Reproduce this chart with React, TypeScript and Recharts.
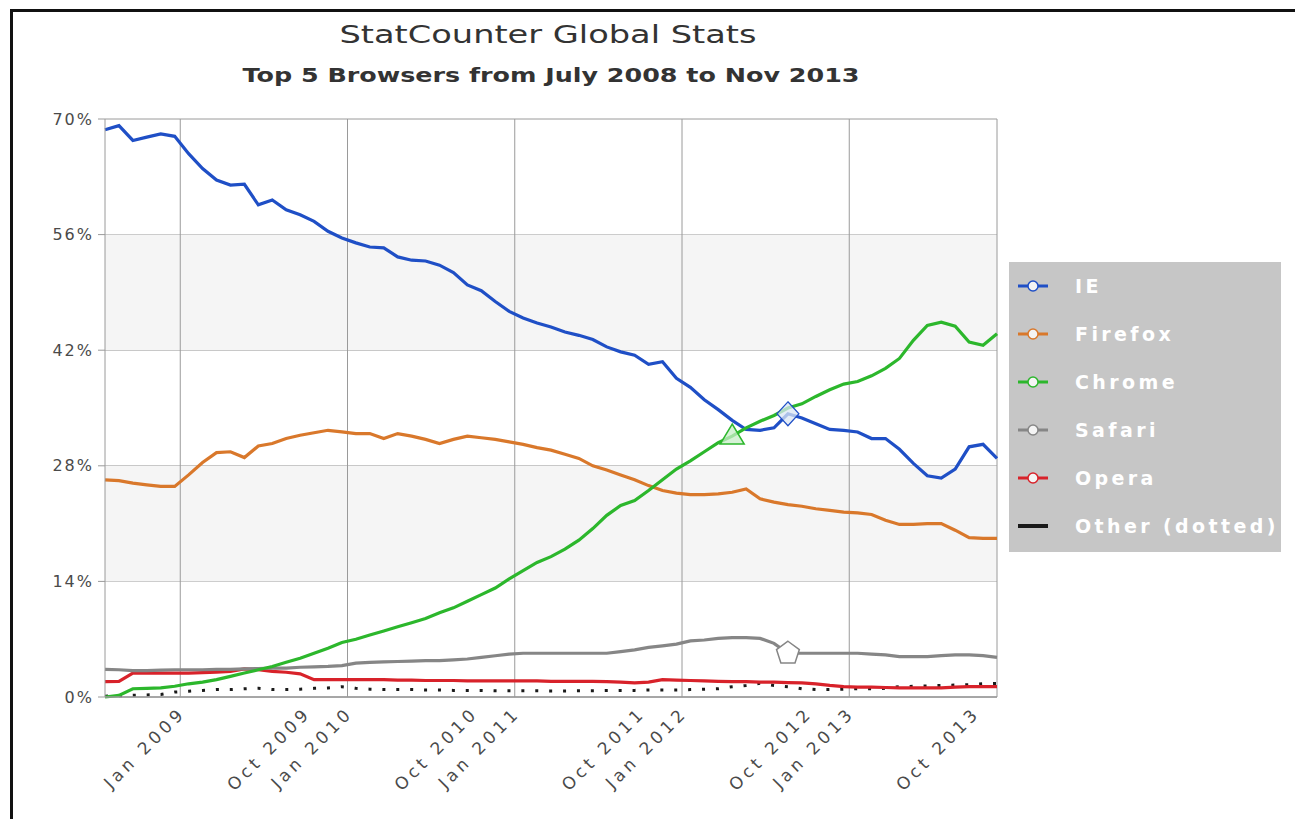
import React from 'react';
import {
  LineChart,
  Line,
  XAxis,
  YAxis,
  CartesianGrid,
  ReferenceLine,
  ReferenceArea,
  ReferenceDot,
} from 'recharts';

// monthly share, Jul 2008 (index 0) .. Nov 2013 (index 64)
const IE = [
  68.7, 69.2, 67.4, 67.8, 68.2, 67.9, 65.8, 64.0, 62.6, 62.0,
  62.1, 59.6, 60.2, 59.0, 58.4, 57.6, 56.4, 55.6, 55.0, 54.5,
  54.4, 53.3, 52.9, 52.8, 52.3, 51.4, 49.9, 49.2, 47.9, 46.7,
  45.9, 45.3, 44.8, 44.2, 43.8, 43.3, 42.4, 41.8, 41.4, 40.3,
  40.6, 38.6, 37.5, 36.0, 34.8, 33.5, 32.4, 32.3, 32.6, 34.3,
  33.8, 33.1, 32.4, 32.3, 32.1, 31.3, 31.3, 30.0, 28.3, 26.8,
  26.5, 27.6, 30.3, 30.6, 28.9,
];
const FIREFOX = [
  26.3, 26.2, 25.9, 25.7, 25.5, 25.5, 26.9, 28.4, 29.6, 29.7,
  29.0, 30.4, 30.7, 31.3, 31.7, 32.0, 32.3, 32.1, 31.9, 31.9,
  31.3, 31.9, 31.6, 31.2, 30.7, 31.2, 31.6, 31.4, 31.2, 30.9,
  30.6, 30.2, 29.9, 29.4, 28.9, 28.0, 27.5, 26.9, 26.3, 25.6,
  25.0, 24.7, 24.5, 24.5, 24.6, 24.8, 25.2, 24.0, 23.6, 23.3,
  23.1, 22.8, 22.6, 22.4, 22.3, 22.1, 21.4, 20.9, 20.9, 21.0,
  21.0, 20.2, 19.3, 19.2, 19.2,
];
const CHROME = [
  0.0, 0.2, 1.0, 1.05, 1.1, 1.3, 1.6, 1.8, 2.1, 2.5,
  2.9, 3.3, 3.7, 4.2, 4.7, 5.3, 5.9, 6.6, 7.0, 7.5,
  8.0, 8.5, 9.0, 9.5, 10.2, 10.8, 11.6, 12.4, 13.2, 14.3,
  15.3, 16.3, 17.0, 17.9, 19.0, 20.4, 22.0, 23.2, 23.8, 25.0,
  26.3, 27.6, 28.6, 29.7, 30.8, 31.6, 32.6, 33.4, 34.1, 35.0,
  35.5, 36.4, 37.2, 37.9, 38.2, 38.9, 39.8, 41.0, 43.2, 45.0,
  45.4, 44.9, 43.0, 42.6, 44.0,
];
const SAFARI = [
  3.35, 3.3, 3.2, 3.2, 3.25, 3.3, 3.3, 3.3, 3.35, 3.35,
  3.4, 3.45, 3.5, 3.5, 3.6, 3.65, 3.7, 3.8, 4.1, 4.2,
  4.25, 4.3, 4.35, 4.4, 4.4, 4.5, 4.6, 4.8, 5.0, 5.2,
  5.3, 5.3, 5.3, 5.3, 5.3, 5.3, 5.3, 5.5, 5.7, 6.0,
  6.2, 6.4, 6.8, 6.9, 7.1, 7.2, 7.2, 7.1, 6.5, 5.3,
  5.3, 5.3, 5.3, 5.3, 5.3, 5.2, 5.1, 4.9, 4.9, 4.9,
  5.0, 5.1, 5.1, 5.0, 4.8,
];
const OPERA = [
  1.85, 1.9, 2.9, 2.9, 2.9, 2.9, 2.9, 2.95, 3.0, 3.1,
  3.4, 3.3, 3.1, 3.0, 2.8, 2.1, 2.1, 2.1, 2.1, 2.1,
  2.1, 2.05, 2.05, 2.0, 2.0, 2.0, 1.95, 1.95, 1.95, 1.95,
  1.95, 1.95, 1.9, 1.9, 1.9, 1.9, 1.85, 1.8, 1.7, 1.8,
  2.1, 2.05, 2.0, 1.95, 1.9, 1.85, 1.85, 1.8, 1.8, 1.75,
  1.7, 1.6, 1.4, 1.25, 1.2, 1.2, 1.15, 1.1, 1.1, 1.1,
  1.1, 1.2, 1.25, 1.25, 1.25,
];
const OTHER = [
  0.1, 0.15, 0.2, 0.25, 0.3, 0.6, 0.7, 0.8, 0.9, 0.9,
  1.0, 1.05, 0.9, 0.9, 0.95, 1.05, 1.1, 1.25, 1.05, 0.95,
  0.9, 0.9, 0.9, 0.85, 0.85, 0.8, 0.8, 0.8, 0.75, 0.75,
  0.75, 0.75, 0.73, 0.73, 0.75, 0.75, 0.78, 0.8, 0.8, 0.85,
  0.85, 0.85, 0.9, 0.95, 1.0, 1.25, 1.4, 1.65, 1.4, 1.25,
  1.0, 0.9, 0.9, 0.95, 1.0, 1.0, 1.05, 1.25, 1.3, 1.35,
  1.4, 1.45, 1.5, 1.6, 1.65,
];

const Y_TICKS = [0, 14, 28, 42, 56, 70];
const X_LABEL_MONTHS = [6, 15, 18, 27, 30, 39, 42, 51, 54, 63];
const X_LABELS = [
  'Jan 2009', 'Oct 2009', 'Jan 2010', 'Oct 2010', 'Jan 2011',
  'Oct 2011', 'Jan 2012', 'Oct 2012', 'Jan 2013', 'Oct 2013',
];
const YEAR_LINES = [5.4, 17.4, 29.4, 41.4, 53.4];
const SHADED_BANDS = [[14, 28], [42, 56]];

const SERIES = [
  { key: 'other', name: 'Other (dotted)', color: '#1a1a1a', values: OTHER, dotted: true },
  { key: 'opera', name: 'Opera', color: '#d8222a', values: OPERA },
  { key: 'safari', name: 'Safari', color: '#868686', values: SAFARI },
  { key: 'firefox', name: 'Firefox', color: '#d9782b', values: FIREFOX },
  { key: 'ie', name: 'IE', color: '#1f4fc6', values: IE },
  { key: 'chrome', name: 'Chrome', color: '#2cb72c', values: CHROME },
];
const LEGEND_ORDER = ['ie', 'firefox', 'chrome', 'safari', 'opera', 'other'];

const MARKERS = [
  { key: 'chrome', month: 45, shape: 'triangle', fill: '#c8eec8' },
  { key: 'ie', month: 49, shape: 'diamond', fill: '#dce7f4' },
  { key: 'safari', month: 49, shape: 'pentagon', fill: '#ffffff' },
];

const data = IE.map((_, i) => {
  const row: Record<string, number> = { m: i };
  SERIES.forEach((s) => {
    row[s.key] = s.values[i];
  });
  return row;
});

const FONT = "'DejaVu Sans', Verdana, sans-serif";
const GRID = '#9a9a9a';
const AXIS_Y = 697;

const YTick = ({ x, y, payload }: any) => (
  <text
    x={x}
    y={y}
    textAnchor="end"
    dominantBaseline="central"
    style={{ fontFamily: FONT, fontSize: 16, fill: '#4a4a4a', letterSpacing: 2 }}
  >
    {payload.value}%
  </text>
);

// labels hang from the axis, rotated 45 degrees, text ending near the month position
const XTick = ({ x, payload }: any) => {
  const label = X_LABELS[X_LABEL_MONTHS.indexOf(payload.value)];
  const ax = x - 2;
  const ay = AXIS_Y + 17;
  return (
    <text
      x={ax}
      y={ay}
      transform={`rotate(-45 ${ax} ${ay})`}
      textAnchor="end"
      style={{ fontFamily: FONT, fontSize: 17, fill: '#4a4a4a', letterSpacing: 4 }}
    >
      {label}
    </text>
  );
};

function markerShape(shape: string, color: string, fill: string) {
  return (p: any) => {
    const { cx, cy } = p;
    if (shape === 'triangle') {
      return (
        <polygon
          points={`${cx},${cy - 12} ${cx - 12},${cy + 8} ${cx + 12},${cy + 8}`}
          fill={fill}
          fillOpacity={0.75}
          stroke={color}
          strokeWidth={1.5}
        />
      );
    }
    if (shape === 'diamond') {
      return (
        <polygon
          points={`${cx},${cy - 12} ${cx + 11},${cy} ${cx},${cy + 12} ${cx - 11},${cy}`}
          fill={fill}
          fillOpacity={0.75}
          stroke={color}
          strokeWidth={1.2}
        />
      );
    }
    const pts = [0, 1, 2, 3, 4]
      .map((k) => {
        const a = -Math.PI / 2 + (k * 2 * Math.PI) / 5;
        return `${cx + 12 * Math.cos(a)},${cy + 12 * Math.sin(a)}`;
      })
      .join(' ');
    return <polygon points={pts} fill={fill} stroke={color} strokeWidth={1.5} />;
  };
}

export default function App() {
  const legendItems = LEGEND_ORDER.map((k) => SERIES.find((s) => s.key === k)!);
  return (
    <div style={{ position: 'absolute', left: 0, top: 0, width: 1295, height: 819, background: '#fff' }}>
      <div
        style={{
          position: 'absolute',
          left: 10,
          top: 9,
          width: 1285,
          height: 810,
          borderTop: '3px solid #111',
          borderLeft: '3px solid #111',
        }}
      />
      <div style={{ position: 'absolute', left: 0, top: 0 }}>
        <LineChart
          width={1295}
          height={819}
          data={data}
          margin={{ top: 119, right: 298, bottom: 12, left: 10 }}
        >
          {SHADED_BANDS.map(([a, b]) => (
            <ReferenceArea
              key={`band-${a}`}
              y1={a}
              y2={b}
              fill="#f5f5f5"
              fillOpacity={1}
              stroke="none"
            />
          ))}
          <CartesianGrid vertical={false} stroke={GRID} strokeWidth={1} />
          {YEAR_LINES.map((m) => (
            <ReferenceLine key={`yr-${m}`} x={m} stroke={GRID} strokeWidth={1} />
          ))}
          <ReferenceLine x={64} stroke={GRID} strokeWidth={1} />
          <XAxis
            dataKey="m"
            type="number"
            domain={[0, 64]}
            ticks={X_LABEL_MONTHS}
            interval={0}
            height={110}
            tickLine={false}
            tickSize={0}
            tickMargin={0}
            axisLine={{ stroke: GRID, strokeWidth: 1.5 }}
            tick={<XTick />}
          />
          <YAxis
            type="number"
            domain={[0, 70]}
            ticks={Y_TICKS}
            interval={0}
            width={95}
            tickSize={7}
            tickMargin={4}
            tickLine={{ stroke: GRID }}
            axisLine={{ stroke: GRID }}
            tick={<YTick />}
          />
          {SERIES.map((s) => (
            <Line
              key={s.key}
              type="linear"
              dataKey={s.key}
              stroke={s.color}
              strokeWidth={s.dotted ? 3 : 3.2}
              strokeDasharray={s.dotted ? '3 10.9' : undefined}
              dot={false}
              activeDot={false}
              isAnimationActive={false}
            />
          ))}
          {MARKERS.map((mk) => {
            const s = SERIES.find((x) => x.key === mk.key)!;
            return (
              <ReferenceDot
                key={`mk-${mk.key}`}
                x={mk.month}
                y={s.values[mk.month]}
                r={12}
                shape={markerShape(mk.shape, s.color, mk.fill)}
              />
            );
          })}
        </LineChart>
      </div>
      <svg
        width={1295}
        height={819}
        style={{ position: 'absolute', left: 0, top: 0, pointerEvents: 'none' }}
      >
        <text
          x={548}
          y={43}
          textAnchor="middle"
          textLength={417}
          lengthAdjust="spacingAndGlyphs"
          style={{ fontFamily: FONT, fontSize: 25, fill: '#333' }}
        >
          StatCounter Global Stats
        </text>
        <text
          x={551}
          y={82}
          textAnchor="middle"
          textLength={617}
          lengthAdjust="spacingAndGlyphs"
          style={{ fontFamily: FONT, fontSize: 20, fontWeight: 'bold', fill: '#333' }}
        >
          Top 5 Browsers from July 2008 to Nov 2013
        </text>
        <rect x={1009} y={262} width={272} height={290} fill="#c6c6c6" />
        {legendItems.map((s, i) => {
          const base = 293 + i * 48;
          const cy = base - 7;
          return (
            <g key={`lg-${s.key}`}>
              <line
                x1={1018}
                x2={1048}
                y1={cy}
                y2={cy}
                stroke={s.color}
                strokeWidth={s.dotted ? 4 : 3}
              />
              {!s.dotted && (
                <circle cx={1033} cy={cy} r={5} fill="#f4f4f4" stroke={s.color} strokeWidth={1.5} />
              )}
              <text
                x={1075}
                y={base}
                style={{
                  fontFamily: FONT,
                  fontSize: 19,
                  fontWeight: 'bold',
                  fill: '#fff',
                  letterSpacing: 3.4,
                }}
              >
                {s.name}
              </text>
            </g>
          );
        })}
      </svg>
    </div>
  );
}
